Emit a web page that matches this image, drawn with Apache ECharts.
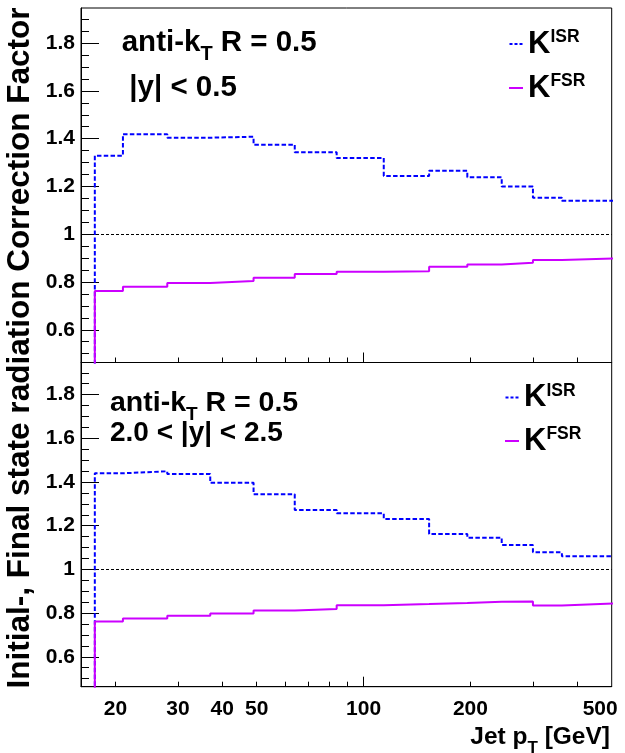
<!DOCTYPE html>
<html><head><meta charset="utf-8">
<script src="https://cdn.jsdelivr.net/npm/echarts@6/dist/echarts.min.js"></script>
<style>html,body{margin:0;padding:0;background:#fff}#c{width:625px;height:753px}</style>
</head><body><div id="c"></div>
<script>
// ---- data ----
const binEdges   = [17.5, 21, 28, 37, 49, 64, 84, 114, 153, 196, 245, 300, 362, 507];
const isrCentral = [1.329, 1.419, 1.404, 1.408, 1.375, 1.343, 1.319, 1.244, 1.266, 1.239, 1.200, 1.153, 1.140];
const fsrCentral = [0.762, 0.780, 0.796, 0.804, 0.818, 0.834, 0.843, 0.845, 0.864, 0.873, 0.881, 0.892, 0.898];
const isrForward = [1.440, 1.449, 1.437, 1.396, 1.344, 1.272, 1.257, 1.231, 1.162, 1.145, 1.112, 1.078, 1.060];
const fsrForward = [0.762, 0.775, 0.788, 0.798, 0.812, 0.819, 0.836, 0.841, 0.846, 0.852, 0.853, 0.835, 0.844];
const xLabelValues = [20, 30, 40, 50, 100, 200, 500];
const xMinorTicks  = [20, 30, 40, 50, 60, 70, 80, 90, 200, 300, 400];
const xMajorTicks  = [100];
const yLabelValues = [0.6, 0.8, 1, 1.2, 1.4, 1.6, 1.8];
const yMinorTicks  = [0.5, 0.55, 0.65, 0.7, 0.75, 0.85, 0.9, 0.95, 1.05, 1.1, 1.15, 1.25, 1.3, 1.35,
                      1.45, 1.5, 1.55, 1.65, 1.7, 1.75, 1.85, 1.9];
const xRange = [16, 500];
const yRange = [0.463, 1.947];
const legendNames = ['ISR', 'FSR'];
const panelLabels = [
  ['anti-k', 'T', ' R = 0.5', '|y| < 0.5'],
  ['anti-k', 'T', ' R = 0.5', '2.0 < |y| < 2.5']
];
const yTitle = 'Initial-, Final state radiation Correction Factor';
const xTitle = ['Jet p', 'T', ' [GeV]'];

// ---- helpers ----
const F = '"Liberation Sans", Arial, Helvetica, sans-serif';
const lg = v => Math.log10(v);
const mctx = document.createElement('canvas').getContext('2d');
function tw(t, s) { mctx.font = 'bold ' + s + 'px ' + F; return mctx.measureText(t).width; }
function hist(edges, vals) {
  const pts = [[lg(edges[0]), 0]];
  for (let i = 0; i < vals.length; i++) pts.push([lg(edges[i + 1]), vals[i]]);
  return pts;
}
function txt(t, s, x, y) {
  return { type: 'text', x: x, y: y, silent: true,
    style: { text: t, fontSize: s, fontWeight: 'bold', fontFamily: F, fill: '#000',
             align: 'left', verticalAlign: 'middle', textAlign: 'left', textVerticalAlign: 'middle' } };
}
function seq(parts, x0, yc) {
  const out = []; let x = x0;
  parts.forEach(p => { out.push(txt(p.t, p.s, x, yc + (p.dy || 0))); x += tw(p.t, p.s); });
  return out;
}
function seqRight(parts, xr, yc) {
  let w = 0; parts.forEach(p => { w += tw(p.t, p.s); });
  return seq(parts, xr - w, yc);
}
const yFmt = v => String(Number(v.toFixed(2)));
const grids = [
  { left: 81, top: 8, width: 530.7, height: 354.5 },
  { left: 81, top: 362.5, width: 530.7, height: 324.2 }
];
const xAxes = [], yAxes = [];
grids.forEach((g, gi) => {
  const isBottom = gi === 1;
  xAxes.push({ gridIndex: gi, type: 'value', position: 'bottom', min: lg(xRange[0]), max: lg(xRange[1]),
    axisLine: { show: true, onZero: false, lineStyle: { color: '#000', width: 1 } },
    axisTick: { show: true, inside: true, length: 5, customValues: xMinorTicks.map(lg), lineStyle: { color: '#000' } },
    axisLabel: isBottom ? {
      show: true, customValues: xLabelValues.map(lg), margin: 12,
      fontSize: 21, fontWeight: 'bold', fontFamily: F, color: '#000',
      formatter: v => { const n = Math.round(Math.pow(10, v)); return n === 500 ? '{e|500}' : String(n); },
      rich: { e: { fontSize: 21, fontWeight: 'bold', fontFamily: F, color: '#000', padding: [0, 23, 0, 0] } }
    } : { show: false },
    splitLine: { show: false } });
  xAxes.push({ gridIndex: gi, type: 'value', position: 'bottom', min: lg(xRange[0]), max: lg(xRange[1]),
    axisLine: { show: false, onZero: false },
    axisTick: { show: true, inside: true, length: 10, customValues: xMajorTicks.map(lg), lineStyle: { color: '#000' } },
    axisLabel: { show: false }, splitLine: { show: false } });
  yAxes.push({ gridIndex: gi, type: 'value', position: 'left', min: yRange[0], max: yRange[1],
    axisLine: { show: true, onZero: false, lineStyle: { color: '#000', width: 1 } },
    axisTick: { show: true, inside: true, length: 18, customValues: yLabelValues, lineStyle: { color: '#000' } },
    axisLabel: { show: true, customValues: yLabelValues, formatter: yFmt, margin: 6,
      fontSize: 21, fontWeight: 'bold', fontFamily: F, color: '#000' },
    splitLine: { show: false } });
  yAxes.push({ gridIndex: gi, type: 'value', position: 'left', min: yRange[0], max: yRange[1],
    axisLine: { show: false, onZero: false },
    axisTick: { show: true, inside: true, length: 8, customValues: yMinorTicks, lineStyle: { color: '#000' } },
    axisLabel: { show: false }, splitLine: { show: false } });
});

const isrStyle = { color: '#0000ff', width: 2, type: [4.5, 2.3] };
const fsrStyle = { color: '#cc00ff', width: 2, type: 'solid' };
const refLine = { silent: true, symbol: 'none', animation: false, label: { show: false },
  lineStyle: { color: '#000', width: 1, type: [3, 2] }, data: [{ yAxis: 1 }] };
function series(name, data, gi, style, withRef) {
  const s = { name: name, type: 'line', step: 'start', data: data, xAxisIndex: gi * 2, yAxisIndex: gi * 2,
    showSymbol: false, symbol: 'none', clip: true, lineStyle: style, itemStyle: { color: style.color },
    emphasis: { disabled: true } };
  if (withRef) s.markLine = refLine;
  return s;
}
const seriesList = [
  series('ISR', hist(binEdges, isrCentral), 0, isrStyle, true),
  series('FSR', hist(binEdges, fsrCentral), 0, fsrStyle, false),
  series('ISR', hist(binEdges, isrForward), 1, isrStyle, true),
  series('FSR', hist(binEdges, fsrForward), 1, fsrStyle, false)
];

const legendRich = {
  k: { fontSize: 31, fontWeight: 'bold', fontFamily: F, color: '#000' },
  s: { fontSize: 17.5, fontWeight: 'bold', fontFamily: F, color: '#000', verticalAlign: 'top', lineHeight: 16 }
};
const legendIcons = {
  ISR: 'path://M0,0h3v2h-3z M5,0h3v2h-3z M10,0h3v2h-3z',
  FSR: 'path://M0,0h14v2h-14z'
};
function legendAt(left, top, gap) {
  return { left: left, top: top, orient: 'vertical', padding: 0, itemWidth: 14, itemHeight: 2, itemGap: gap,
    selectedMode: false, symbolKeepAspect: true,
    data: legendNames.map(n => ({ name: n, icon: legendIcons[n] })),
    itemStyle: { borderWidth: 0 },
    formatter: n => '{k|K}{s|' + n + '}',
    textStyle: { rich: legendRich } };
}

const graphics = [].concat(
  seq([{ t: panelLabels[0][0], s: 29.5 }, { t: panelLabels[0][1], s: 20, dy: 11.5 }, { t: panelLabels[0][2], s: 29.5 }], 121.7, 42.5),
  seq([{ t: panelLabels[0][3], s: 29.5 }], 129.3, 88.3),
  seq([{ t: panelLabels[1][0], s: 28.5 }, { t: panelLabels[1][1], s: 19, dy: 11 }, { t: panelLabels[1][2], s: 28.5 }], 110, 403.5),
  seq([{ t: panelLabels[1][3], s: 28 }], 110, 433.3),
  seqRight([{ t: xTitle[0], s: 24.5 }, { t: xTitle[1], s: 17, dy: 11 }, { t: xTitle[2], s: 24.5 }], 610, 737),
  [{ type: 'text', x: 20, y: 348, rotation: Math.PI / 2, silent: true,
     style: { text: yTitle, fontSize: 31.5, fontWeight: 'bold', fontFamily: F, fill: '#000',
              align: 'center', verticalAlign: 'middle', textAlign: 'center', textVerticalAlign: 'middle' } }]
);

const chart = echarts.init(document.getElementById('c'), null, { renderer: 'canvas' });
chart.setOption({
  animation: false,
  backgroundColor: '#fff',
  grid: grids.map(g => Object.assign({ show: true, borderColor: '#000', borderWidth: 1, containLabel: false,
    outerBoundsMode: 'none', backgroundColor: 'transparent' }, g)),
  xAxis: xAxes,
  yAxis: yAxes,
  legend: [legendAt(509, 28.5, 13), legendAt(505, 382, 12.5)],
  series: seriesList,
  graphic: graphics
});
</script></body></html>
